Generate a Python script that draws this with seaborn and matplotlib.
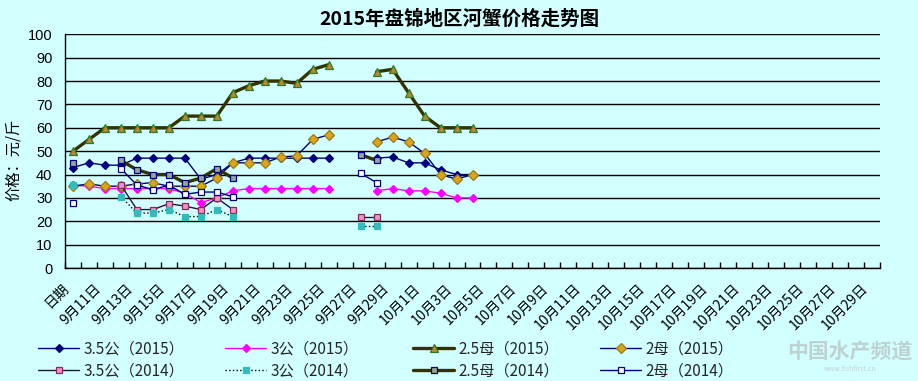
import numpy as np
import pandas as pd
import matplotlib
matplotlib.use("Agg")
import matplotlib.pyplot as plt
import matplotlib.transforms as mtransforms
import seaborn as sns

# category labels (x axis), one per day
dates = ["日期"] + [f"9月{d}日" for d in range(10, 31)] + [f"10月{d}日" for d in range(1, 30)]

# prices, yuan per jin (None = no quote that day)
s35_2015 = [43, 45, 44, 44, 47, 47, 47, 47, 38, 40, 45, 47, 47, 47, 47, 47, 47, None, None,
            47, 47.5, 45, 45, 42, 40, 40]
s3_2015 = [35.5, 35, 34, 34, 34, 34, 34, 32, 28, 30, 33, 34, 34, 34, 34, 34, 34, None, None,
           33, 34, 33, 33, 32, 30, 30]
s25_2015 = [50, 55, 60, 60, 60, 60, 60, 65, 65, 65, 75, 78, 80, 80, 79, 85, 87, None, None,
            84, 85, 75, 65, 60, 60, 60]
s2_2015 = [35, 36, 35, 35, 36, 36.5, 35, 35, 35, 38.5, 45, 45, 45, 47.5, 48, 55, 57, None, None,
           54, 56, 54, 49, 40, 38, 40]
s35_2014 = [None, None, None, 35.5, 25, 25, 27.5, 26.5, 25, 30, 25,
            None, None, None, None, None, None, None, 22, 22]
s3_2014 = [35.5, None, None, 30.5, 23.5, 23.5, 25, 22, 22, 25, 22,
           None, None, None, None, None, None, None, 18, 18]
s25_2014 = [45, None, None, 46, 42, 40, 40, 36.5, 38.5, 42.5, 38.5,
            None, None, None, None, None, None, None, 48.5, 46]
s2_2014 = [28, None, None, 42.5, 35.5, 33.5, 35.5, 31.5, 32.5, 32.5, 30.5,
           None, None, None, None, None, None, None, 40.5, 36.5]

names = ["3.5公（2015）", "3公（2015）", "2.5母（2015）", "2母（2015）",
         "3.5公（2014）", "3公（2014）", "2.5母（2014）", "2母（2014）"]
values = [s35_2015, s3_2015, s25_2015, s2_2015, s35_2014, s3_2014, s25_2014, s2_2014]

styles = [
    dict(color="#000080", lw=1.0, ls="-", marker="D", ms=4.5, mfc="#000080", mec="#000080"),
    dict(color="#FF00FF", lw=1.0, ls="-", marker="D", ms=4.5, mfc="#FF00FF", mec="#FF00FF"),
    dict(color="#333300", lw=2.4, ls="-", marker="^", ms=6, mfc="#C08530", mec="#2F7A20"),
    dict(color="#000080", lw=1.0, ls="-", marker="D", ms=5, mfc="#D9A520", mec="#9C7A10"),
    dict(color="#1A1A33", lw=1.0, ls="-", marker="s", ms=5, mfc="#E896C8", mec="#8A2A5A"),
    dict(color="#000000", lw=1.0, ls=":", marker="s", ms=5, mfc="#33BBBB", mec="#33BBBB"),
    dict(color="#333300", lw=2.4, ls="-", marker="s", ms=5, mfc="#92A890", mec="#000080"),
    dict(color="#000080", lw=1.0, ls="-", marker="s", ms=5, mfc="#FFFFFF", mec="#000080"),
]

sns.set_theme(style="white")
plt.rcParams["font.family"] = ["Noto Sans CJK SC", "DejaVu Sans"]

bg = "#D2FFFF"
fig = plt.figure(figsize=(9.18, 3.81), dpi=100, facecolor=bg)
ax = fig.add_axes([65 / 918, 1 - 268 / 381, 815 / 918, (268 - 34.3) / 381])
ax.set_facecolor(bg)


def runs(vals):
    v = np.array([np.nan if x is None else x for x in vals], dtype=float)
    out, cur = [], []
    for i, y in enumerate(v):
        if np.isnan(y):
            if cur:
                out.append(cur)
            cur = []
        else:
            cur.append(i)
    if cur:
        out.append(cur)
    return v, out


handles = {}
for name, vals, st in zip(names, values, styles):
    v, segs = runs(vals)
    for k, seg in enumerate(segs):
        df = pd.DataFrame({"day": seg, "price": v[seg]})
        sns.lineplot(data=df, x="day", y="price", ax=ax, legend=False,
                     color=st["color"], linewidth=st["lw"], linestyle=st["ls"],
                     marker=st["marker"], markersize=st["ms"],
                     markerfacecolor=st["mfc"], markeredgecolor=st["mec"],
                     markeredgewidth=0.9)
        if k == 0:
            handles[name] = ax.lines[-1]

ax.set_xlim(-0.5, len(dates) - 0.5)
ax.set_ylim(0, 100)
ax.set_yticks(range(0, 101, 10))
ax.yaxis.grid(True, color="black", linewidth=1.0)
ax.xaxis.grid(False)
ax.set_axisbelow(True)
ax.set_xlabel("")
ax.set_ylabel("")
for sp in ["top", "right"]:
    ax.spines[sp].set_visible(False)
for sp in ["left", "bottom"]:
    ax.spines[sp].set_color("black")
    ax.spines[sp].set_linewidth(1.0)

ax.tick_params(axis="y", length=0, pad=9, labelsize=10.5, labelcolor="black")
for lab in ax.get_yticklabels():
    lab.set_fontfamily(["Liberation Sans", "DejaVu Sans"])

ax.set_xticks(range(0, len(dates), 2))
ax.set_xticklabels(dates[::2])
ax.set_xticks(np.arange(-0.5, len(dates), 1), minor=True)
ax.tick_params(axis="x", which="major", length=0, pad=13, labelsize=10, labelcolor="black")
ax.tick_params(axis="x", which="minor", bottom=True, direction="in", length=4, width=1, color="black")
shift = mtransforms.ScaledTranslation(-6 / 100, 0, fig.dpi_scale_trans)
for lab in ax.get_xticklabels():
    lab.set_rotation(45)
    lab.set_ha("right")
    lab.set_va("center")
    lab.set_rotation_mode("anchor")
    lab.set_transform(lab.get_transform() + shift)

fig.text(0.5, 1 - 19 / 381, "2015年盘锦地区河蟹价格走势图", ha="center", va="center",
         fontsize=14, fontweight="bold", color="black")
fig.text(13 / 918, 1 - 160 / 381, "价格：元/斤", rotation=90, ha="center", va="center",
         fontsize=11, color="black")

# legend: four columns, 2015 on top row, 2014 below
col_x = [38, 225, 413, 600]
for j, x0 in enumerate(col_x):
    pair = [names[j], names[j + 4]]
    fig.legend([handles[n] for n in pair], pair, loc="center left",
               bbox_to_anchor=(x0 / 918, 1 - 360 / 381), frameon=False,
               fontsize=11, handlelength=2.7, handletextpad=0.3,
               labelspacing=0.3, borderpad=0, borderaxespad=0, numpoints=1)

fig.text(850 / 918, 1 - 352 / 381, "中国水产频道", ha="center", va="center",
         fontsize=15, fontweight="bold", style="italic", color="#BFD2D2")
fig.text(850 / 918, 1 - 369 / 381, "www.fishfirst.cn", ha="center", va="center",
         fontsize=5, color="#BFD2D2")

fig.savefig("out.png", dpi=100, facecolor=bg)
